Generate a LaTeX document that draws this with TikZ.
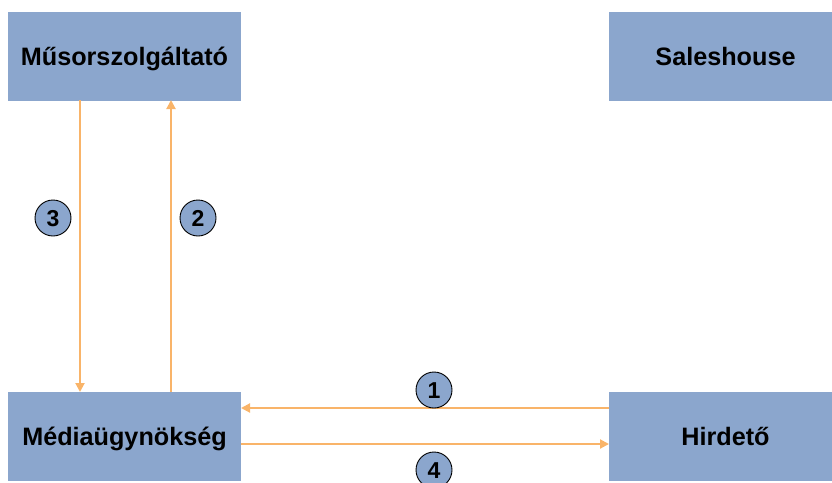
\documentclass[tikz,border=0pt]{standalone}
\usepackage{fontspec}
\setmainfont{Liberation Sans}
\usetikzlibrary{arrows.meta}
\definecolor{boxblue}{HTML}{8BA6CD}
\definecolor{arrorange}{HTML}{F9B469}
\tikzset{
  box/.style={draw=none, fill=boxblue, minimum width=233pt, minimum height=89pt, inner sep=0pt, text height=18pt, text depth=0pt, font=\fontsize{25.2}{30}\selectfont\bfseries},
  num/.style={circle, draw=black, line width=0.9pt, fill=boxblue, minimum size=36pt, inner sep=0pt, text height=16.5pt, text depth=0pt, font=\fontsize{23}{25}\selectfont\bfseries},
  conn/.style={draw=arrorange, line width=2pt, -{Triangle[length=9pt, width=9pt]}}
}
\begin{document}
\begin{tikzpicture}[x=1pt, y=-1pt]
\useasboundingbox (0,0) rectangle (832,482);
\begin{scope}
\clip (0,0) rectangle (832,482);
\node[box] (ms) at (124.5,56) {Műsorszolgáltató};
\node[box] (sh) at (725.5,56) {Saleshouse};
\node[box] (mu) at (124.5,436.5) {Médiaügynökség};
\node[box] (hd) at (725.5,436.5) {Hirdető};
\end{scope}
\coordinate (a3s) at (80,100);
\coordinate (a3e) at (80,392);
\coordinate (a2s) at (171,392);
\coordinate (a2e) at (171,100);
\coordinate (a1s) at (609,408);
\coordinate (a1e) at (241,408);
\coordinate (a4s) at (241,444);
\coordinate (a4e) at (609,444);
\draw[conn] (a3s) -- (a3e);
\draw[conn] (a2s) -- (a2e);
\draw[conn] (a1s) -- (a1e);
\draw[conn] (a4s) -- (a4e);
\node[num] (n3) at (53,218) {3};
\node[num] (n2) at (198,218) {2};
\node[num] (n1) at (434,390) {1};
\node[num] (n4) at (434,470) {4};
\end{tikzpicture}
\end{document}
